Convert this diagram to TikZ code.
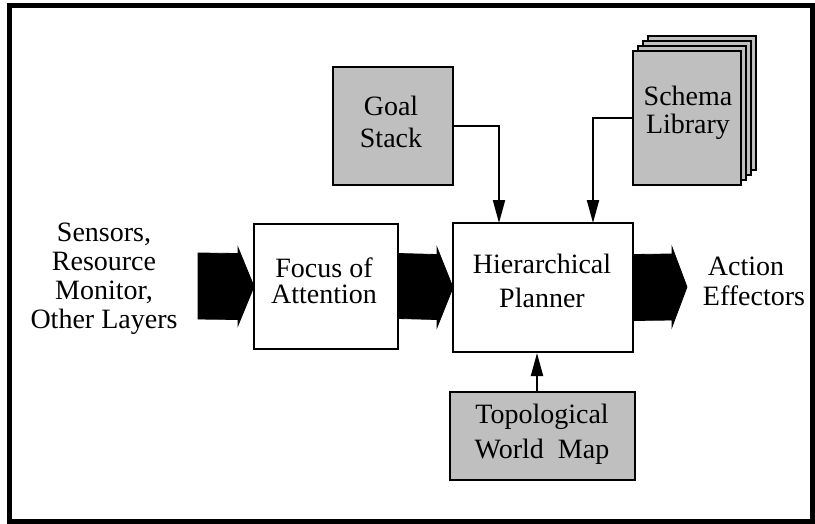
\documentclass[tikz,border=0pt]{standalone}
\usepackage{fontspec}
\setmainfont{Liberation Serif}
\usetikzlibrary{arrows.meta,calc}
\definecolor{boxgray}{gray}{0.75}
\tikzset{
  box/.style={draw=black, line width=2.3pt, inner sep=0pt, outer sep=0pt, anchor=north west},
  graybox/.style={box, fill=boxgray},
  whitebox/.style={box, fill=white},
  txt/.style={font=\fontsize{28}{30}\selectfont, anchor=base, inner sep=0pt, text height=18pt, text depth=5pt},
  conn/.style={line width=2pt, -{Triangle[length=23pt,width=12pt]}},
  fat/.style={fill=black, draw=black, line width=0.8pt, line join=miter},
}
\begin{document}
\begin{tikzpicture}[x=1pt,y=-1pt]
\useasboundingbox (0,0) rectangle (815,523);
% frame
\draw[line width=5pt] (9.5,5.5) rectangle (812.5,521.5);

% schema library back pages
\foreach \k in {3,2,1}{
  \draw[graybox] (633+5*\k,51-5*\k) rectangle (741+5*\k,185-5*\k);
}
% boxes
\node[graybox, minimum width=108pt, minimum height=134pt] (schema) at (633,51) {};
\node[graybox, minimum width=120pt, minimum height=118pt] (goal) at (333,67) {};
\node[whitebox, minimum width=180pt, minimum height=129pt] (plan) at (453,223) {};
\node[whitebox, minimum width=144pt, minimum height=125pt] (focus) at (254,224) {};
\node[graybox, minimum width=185pt, minimum height=88pt] (topo) at (450,392) {};

% texts
\node[txt] (s1) at (104,241) {Sensors,};
\node[txt] (s2) at (104,270) {Resource};
\node[txt] (s3) at (104,299) {Monitor,};
\node[txt] (s4) at (104,328) {Other Layers};
\node[txt] (f1) at (324,277) {Focus of};
\node[txt] (f2) at (324,303) {Attention};
\node[txt] (p1) at (542,273) {Hierarchical};
\node[txt] (p2) at (542,307) {Planner};
\node[txt] (a1) at (746,275) {Action};
\node[txt] (a2) at (754,305) {Effectors};
\node[txt] (g1) at (391,115) {Goal};
\node[txt] (g2) at (391,147) {Stack};
\node[txt] (l1) at (688,105) {Schema};
\node[txt] (l2) at (688,133) {Library};
\node[txt] (t1) at (542,423) {Topological};
\node[txt] (t2) at (542,458) {World\ \ Map};

% thin connectors
\coordinate (pin1) at (499,223);
\coordinate (pin2) at (593,223);
\coordinate (pin3) at (537,353);
\draw[conn] (goal.east) -| (pin1);
\draw[conn] (schema.west) -| (pin2);
\draw[conn] (pin3 |- topo.north) -- (pin3);

% fat arrows
\coordinate (inL) at (198,286);
\fill[fat] ($(inL)+(0,-33)$) -- ($(focus.west)+(-16,-33)$) -- ($(focus.west)+(-16,-39)$)
  -- ($(focus.west)+(0,0)$) -- ($(focus.west)+(-16,39)$) -- ($(focus.west)+(-16,33)$)
  -- ($(inL)+(0,33)$) -- cycle;
\fill[fat] ($(focus.east)+(0,-33)$) -- ($(plan.west)+(-16,-33)$) -- ($(plan.west)+(-16,-40)$)
  -- (plan.west) -- ($(plan.west)+(-16,40)$) -- ($(plan.west)+(-16,32)$)
  -- ($(focus.east)+(0,32)$) -- cycle;
\coordinate (outR) at (687,287);
\fill[fat] ($(plan.east)+(0,-33)$) -- ($(outR)+(-15,-33)$) -- ($(outR)+(-15,-40)$)
  -- (outR) -- ($(outR)+(-15,40)$) -- ($(outR)+(-15,33)$)
  -- ($(plan.east)+(0,33)$) -- cycle;
\end{tikzpicture}
\end{document}
